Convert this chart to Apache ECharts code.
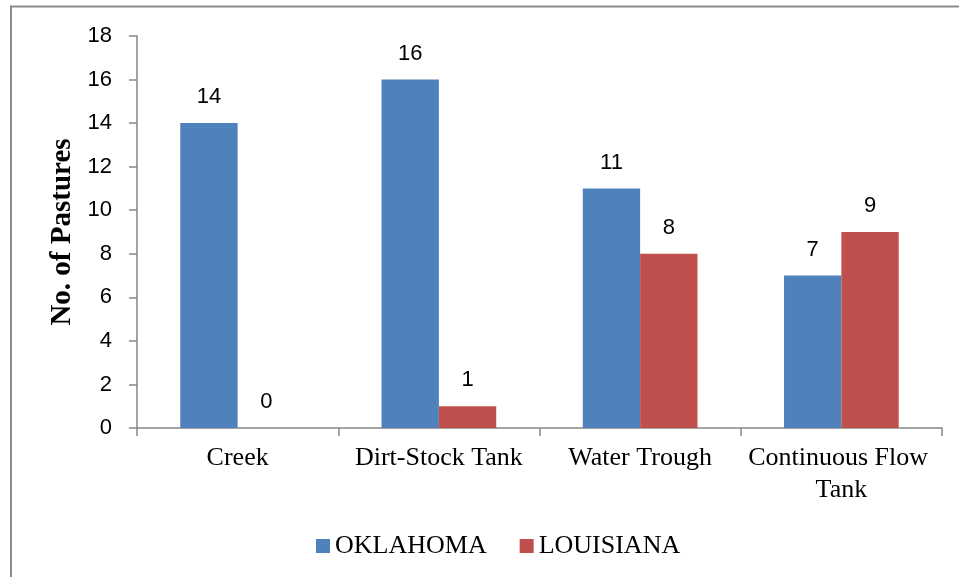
<!DOCTYPE html>
<html>
<head>
<meta charset="utf-8">
<script src="https://cdn.jsdelivr.net/npm/echarts@6/dist/echarts.min.js"></script>
<style>
  html, body { margin: 0; padding: 0; background: #fff; }
  #chart { width: 959px; height: 577px; }
</style>
</head>
<body>
<div id="chart"></div>
<script>
// Water sources in grazed pastures, by state
const categories = ['Creek', 'Dirt-Stock Tank', 'Water Trough', 'Continuous Flow Tank'];
const oklahoma = [14, 16, 11, 7];
const louisiana = [0, 1, 8, 9];
const yTicks = { min: 0, max: 18, interval: 2 };

const axisGray = '#868686';
const serif = '"Liberation Serif", "Times New Roman", serif';
const sans = '"Liberation Sans", Arial, sans-serif';

const valueLabel = {
  show: true,
  position: 'top',
  distance: 15,
  fontFamily: sans,
  fontSize: 22,
  color: '#000'
};

const chart = echarts.init(document.getElementById('chart'), null, { renderer: 'canvas' });
chart.setOption({
  backgroundColor: '#fff',
  animation: false,
  graphic: [{
    type: 'rect',
    silent: true,
    shape: { x: 11, y: 6.5, width: 1000, height: 700 },
    style: { fill: 'none', stroke: '#8c8c8c', lineWidth: 2 }
  }],
  grid: { left: 137, right: 17, top: 36, bottom: 149 },
  legend: {
    left: 311,
    top: 528,
    icon: 'rect',
    itemWidth: 14,
    itemHeight: 14,
    itemGap: 33,
    textStyle: { fontFamily: serif, fontSize: 26, lineHeight: 26, color: '#000' },
    data: ['OKLAHOMA', 'LOUISIANA']
  },
  xAxis: {
    type: 'category',
    data: categories,
    axisLine: { lineStyle: { color: axisGray, width: 1.5 } },
    axisTick: { show: true, length: 8, lineStyle: { color: axisGray, width: 1.5 } },
    axisLabel: {
      interval: 0,
      margin: 14,
      fontFamily: serif,
      fontSize: 26,
      lineHeight: 32,
      color: '#000',
      width: 195,
      overflow: 'break'
    }
  },
  yAxis: {
    type: 'value',
    min: yTicks.min,
    max: yTicks.max,
    interval: yTicks.interval,
    name: 'No. of Pastures',
    nameLocation: 'middle',
    nameGap: 59,
    nameRotate: 90,
    nameTextStyle: { fontFamily: serif, fontSize: 29, fontWeight: 'bold', color: '#000' },
    splitLine: { show: false },
    axisLine: { show: true, lineStyle: { color: axisGray, width: 1.5 } },
    axisTick: { show: true, length: 8, lineStyle: { color: axisGray, width: 1.5 } },
    axisLabel: { margin: 25, fontFamily: sans, fontSize: 22, color: '#000' }
  },
  series: [
    {
      name: 'OKLAHOMA',
      type: 'bar',
      data: oklahoma,
      barGap: '0%',
      barCategoryGap: '43%',
      itemStyle: { color: '#4F81BD' },
      label: valueLabel
    },
    {
      name: 'LOUISIANA',
      type: 'bar',
      data: louisiana,
      itemStyle: { color: '#C0504D' },
      label: valueLabel
    }
  ]
});
</script>
</body>
</html>
